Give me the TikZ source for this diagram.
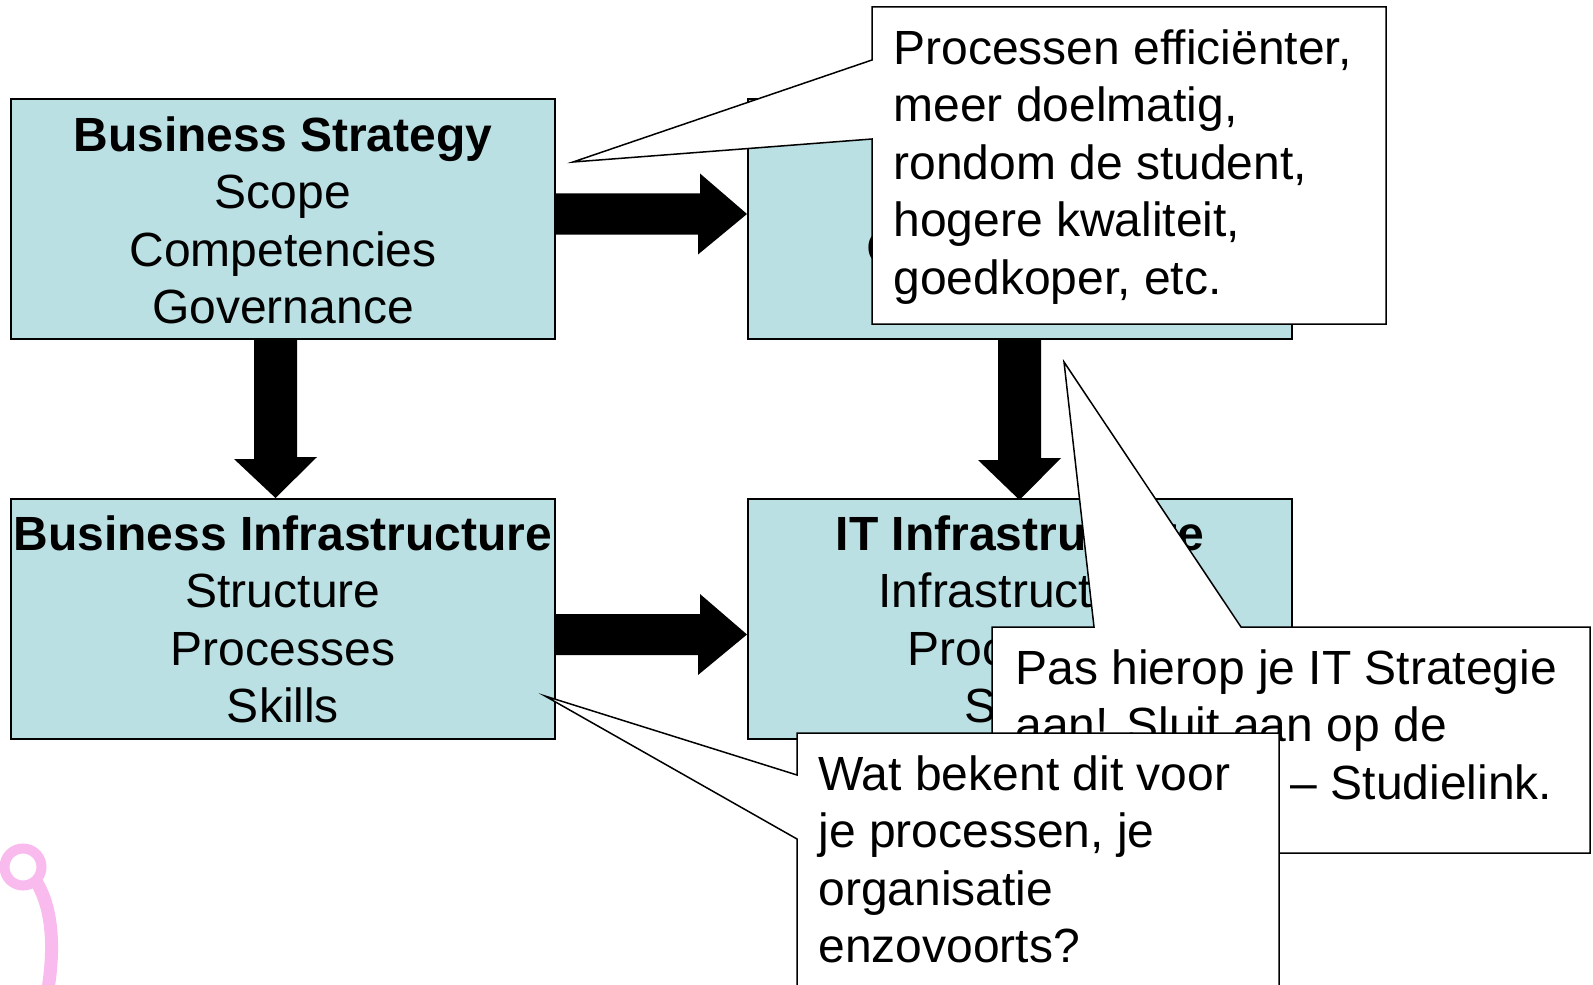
\documentclass[tikz,border=0pt]{standalone}
\usepackage{fontspec}
\setmainfont{Liberation Sans}
\usetikzlibrary{calc}
\definecolor{boxblue}{RGB}{187,224,227}
\definecolor{pinkish}{RGB}{249,186,238}
\begin{document}
\begin{tikzpicture}[x=0.5pt,y=-0.5pt,
  box/.style={draw=black, line width=1pt, fill=boxblue, anchor=north west,
    minimum width=272pt, minimum height=120pt, inner sep=0pt},
  boxtext/.style={anchor=north, inner sep=0pt, align=center,
    font=\fontsize{24}{28.75}\selectfont},
  calltext/.style={anchor=north west, inner sep=0pt, align=left,
    font=\fontsize{24}{28.75}\selectfont},
  callout/.style={draw=black, line width=0.75pt, fill=white, line join=miter},
  bigarrow/.style={fill=black}
]
\useasboundingbox (0,0) rectangle (1593,984);
\clip (0,0) rectangle (1593,984);

% pink decoration
\draw[pinkish, line width=5pt] (23,867) circle[radius=18.5];
\draw[pinkish, line width=6.5pt] (37,883) .. controls (53,910) and (55,950) .. (47,995);

% boxes
\node[box] (bs)  at (10,98)  {};
\node[box] (its) at (747,98) {};
\node[box] (bi)  at (10,498) {};
\node[box] (iti) at (747,498) {};

\node[boxtext] (bst)  at ($(bs.north)+(0,18)$)  {\textbf{Business Strategy}\\Scope\\Competencies\\Governance};
\node[boxtext] (itst) at ($(its.north)+(0,18)$) {\textbf{IT Strategy}\\Scope\\Competencies\\Governance};
\node[boxtext] (bit)  at ($(bi.north)+(0,17)$)  {\textbf{Business Infrastructure}\\Structure\\Processes\\Skills};
\node[boxtext] (itit) at ($(iti.north)+(0,17)$) {\textbf{IT Infrastructure}\\Infrastructure\\Processes\\Skills};

% block arrows
\fill[bigarrow] ($(bs.east)+(0,-25.5)$) -- ++(144,0) -- ++(0,-20) -- ($(its.west)+(0,-5)$)
   -- ++(-49,40.5) -- ++(0,-20) -- ($(bs.east)+(0,15.5)$) -- cycle;
\fill[bigarrow] ($(bi.east)+(0,-5)$) -- ++(144,0) -- ++(0,-20) -- ($(iti.west)+(0,15.5)$)
   -- ++(-49,40.5) -- ++(0,-20) -- ($(bi.east)+(0,36)$) -- cycle;
\fill[bigarrow] ($(bs.south)+(-29,0)$) -- ++(0,119) -- ++(-20,0) -- ($(bi.north)+(-7.5,0)$)
   -- ++(41.5,-41) -- ++(-20,0) -- ($(bs.south)+(14,0)$) -- cycle;
\fill[bigarrow] ($(its.south)+(-22,0)$) -- ++(0,120) -- ++(-20,0) -- ($(iti.north)+(-0.5,2)$)
   -- ++(41.5,-42) -- ++(-20,0) -- ($(its.south)+(21,0)$) -- cycle;

% callout 1
\coordinate (tip1) at (573,162);
\draw[callout] (872,7) -- (1386,7) -- (1386,324) -- (872,324) -- (872,139) -- (tip1) -- (872,60) -- cycle;
\node[calltext] (c1t) at (893,29) {Processen efficiënter,\\meer doelmatig,\\rondom de student,\\hogere kwaliteit,\\goedkoper, etc.};

% callout 2
\coordinate (tip2) at (1064,362);
\draw[callout] (992,627) -- (1094,627) -- (tip2) -- (1241,627) -- (1590,627) -- (1590,853) -- (992,853) -- cycle;
\node[calltext] (c2t) at (1015,649) {Pas hierop je IT Strategie\\aan! Sluit aan op de\\\kern-5pt buitenwereld -- Studielink.};

% callout 3
\coordinate (tip3) at (545,696);
\draw[callout] (797,733) -- (1279,733) -- (1279,1010) -- (797,1010) -- (797,839) -- (tip3) -- (797,775) -- cycle;
\node[calltext] (c3t) at (818,755) {Wat bekent dit voor\\je processen, je\\organisatie\\enzovoorts?};
\end{tikzpicture}
\end{document}
